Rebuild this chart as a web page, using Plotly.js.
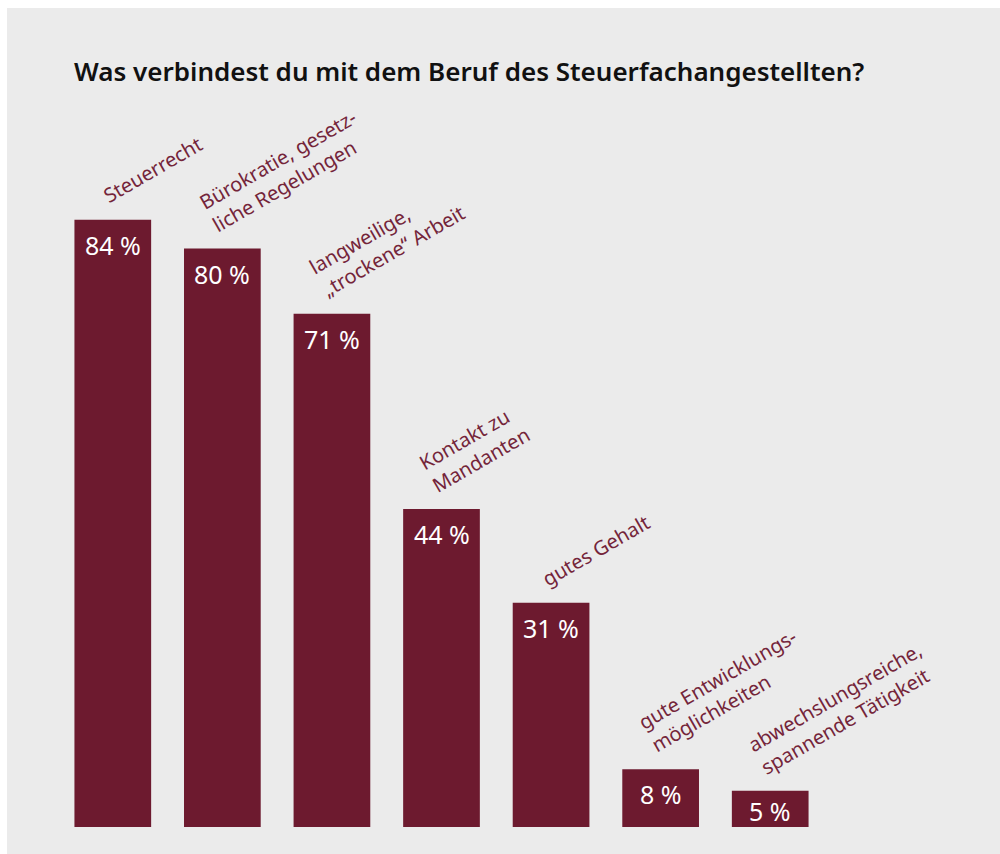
<!DOCTYPE html>
<html>
<head>
<meta charset="utf-8">
<script src="https://cdn.plot.ly/plotly-3.0.1.min.js"></script>
<style>
  html, body { margin: 0; padding: 0; background: #ffffff; width: 1000px; height: 854px; overflow: hidden; }
  #chart { position: absolute; left: 7px; top: 8px; width: 993px; height: 846px; }
</style>
</head>
<body>
<div id="chart"></div>
<script>
// ---- data ----
const categories = [
  'Steuerrecht',
  'Bürokratie, gesetz-<br>liche Regelungen',
  'langweilige,<br>„trockene“ Arbeit',
  'Kontakt zu<br>Mandanten',
  'gutes Gehalt',
  'gute Entwicklungs-<br>möglichkeiten',
  'abwechslungsreiche,<br>spannende Tätigkeit'
];
const values = [84, 80, 71, 44, 31, 8, 5];
const valueLabels = ['84 %', '80 %', '71 %', '44 %', '31 %', '8 %', '5 %'];
const titleText = 'Was verbindest du mit dem Beruf des Steuerfachangestellten?';

// ---- style ----
const BAR = '#6d1a2f';
const LABEL = '#74253a';
const BG = '#ebebeb';
const labelSize = 20;
const lineH = labelSize * 1.3;
const plotH = 846 - 96 - 27;
const yMax = 100;
const pxPerUnit = plotH / yMax;

const trace = {
  type: 'bar',
  x: categories,
  y: values,
  marker: { color: BAR, line: { width: 0 } },
  hoverinfo: 'skip',
  showlegend: false
};

const annotations = [];
categories.forEach((c, i) => {
  const nLines = c.split('<br>').length;
  annotations.push({
    x: c, y: values[i], xref: 'x', yref: 'y',
    text: c, showarrow: false, textangle: -30,
    align: 'left', xanchor: 'left', yanchor: 'bottom',
    xshift: -4 - nLines * lineH / 2, yshift: 8,
    font: { family: 'Noto Sans', size: labelSize, color: LABEL }
  });
  const barPx = values[i] * pxPerUnit;
  annotations.push({
    x: c, y: values[i], xref: 'x', yref: 'y',
    text: valueLabels[i], showarrow: false,
    xanchor: 'center', yanchor: 'middle',
    yshift: -Math.min(25, barPx / 2 + 2),
    font: { family: 'Noto Sans', size: 25, color: '#ffffff' }
  });
});

const layout = {
  width: 993, height: 846,
  paper_bgcolor: BG, plot_bgcolor: 'rgba(0,0,0,0)',
  margin: { l: 51, r: 175, t: 96, b: 27 },
  bargap: 0.3,
  title: {
    text: titleText,
    xref: 'container', yref: 'container',
    x: 67 / 993, xanchor: 'left',
    y: 1 - 64 / 846, yanchor: 'middle',
    font: { family: 'Noto Sans', size: 26, color: '#111111', weight: 600 }
  },
  xaxis: { type: 'category', range: [-0.5, 6.5], showticklabels: false, showgrid: false, zeroline: false, showline: false, ticks: '' },
  yaxis: { range: [0, yMax], showticklabels: false, showgrid: false, zeroline: false, showline: false, ticks: '' },
  annotations: annotations
};

Plotly.newPlot('chart', [trace], layout, { staticPlot: true, displayModeBar: false });
</script>
</body>
</html>
